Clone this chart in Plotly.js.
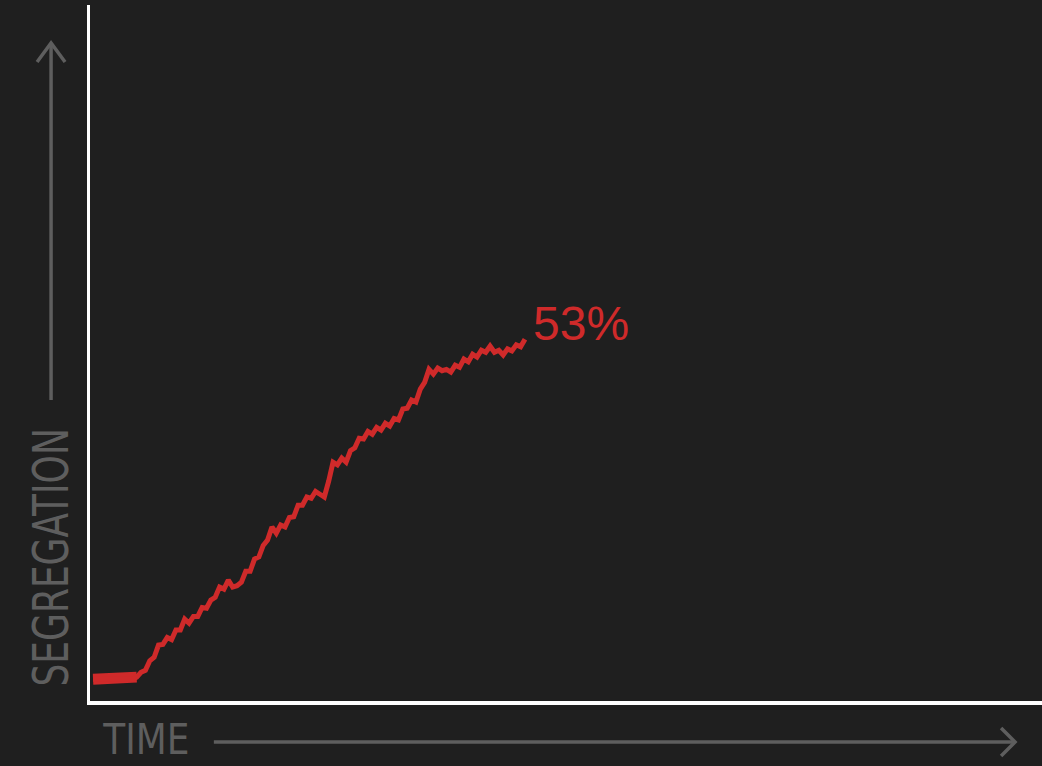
<!DOCTYPE html>
<html>
<head>
<meta charset="utf-8">
<script src="https://cdn.plot.ly/plotly-3.0.1.min.js"></script>
<style>
html,body{margin:0;padding:0;background:#1f1f1f;}
#chart{width:1042px;height:766px;}
</style>
</head>
<body>
<div id="chart"></div>
<script>
// Time steps
const timeSteps = [];
for (let i = 1; i <= 100; i++) timeSteps.push(i);

// Segregation (%)
const segregation = [
  3.2, 3.2, 3.2, 3.2, 3.2, 3.2, 3.2, 3.2, 3.2, 3.2,
  3.5, 4.2, 4.5, 5.9, 6.4, 8.2, 8.3, 9.3, 9.0, 10.4,
  10.4, 12.0, 11.4, 12.4, 12.4, 13.7, 13.6, 14.8, 15.2, 16.7,
  16.4, 17.7, 16.7, 16.9, 17.4, 19.0, 19.0, 20.8, 21.1, 22.8,
  23.6, 25.5, 24.6, 25.8, 25.5, 26.9, 27.0, 28.7, 28.7, 29.9,
  29.7, 30.7, 30.3, 29.9, 32.2, 35.0, 34.6, 35.6, 35.0, 36.7,
  37.1, 38.5, 38.4, 39.5, 39.1, 40.1, 39.7, 40.7, 40.3, 41.4,
  41.2, 42.8, 42.9, 44.1, 43.8, 45.7, 46.7, 48.6, 47.9, 48.8,
  48.4, 48.6, 48.2, 49.2, 48.9, 50.1, 49.7, 50.8, 50.4, 51.4,
  51.1, 52.0, 51.1, 51.4, 50.7, 51.6, 51.3, 52.2, 51.9, 53.0
];

const finalLabel = "53%";
const yAxisLabel = "SEGREGATION";
const xAxisLabel = "TIME";

const red = "#cf2a2a";
const gray = "#5e5e5e";

const traces = [
  {
    x: timeSteps.slice(0, 11),
    y: segregation.slice(0, 11),
    mode: "lines",
    line: {color: red, width: 11},
    hoverinfo: "skip",
    showlegend: false
  },
  {
    x: timeSteps,
    y: segregation,
    mode: "lines",
    line: {color: red, width: 5},
    hoverinfo: "skip",
    showlegend: false
  }
];

const n = timeSteps.length;

const layout = {
  width: 1042,
  height: 766,
  paper_bgcolor: "#1f1f1f",
  plot_bgcolor: "#1f1f1f",
  margin: {l: 90, r: 0, t: 5, b: 65},
  showlegend: false,
  xaxis: {
    range: [0.3, 218.5],
    showgrid: false, zeroline: false, showticklabels: false, ticks: "",
    showline: true, linecolor: "#ffffff", linewidth: 3.5,
    fixedrange: true
  },
  yaxis: {
    range: [0, 102],
    showgrid: false, zeroline: false, showticklabels: false, ticks: "",
    showline: true, linecolor: "#ffffff", linewidth: 3.5,
    fixedrange: true
  },
  annotations: [
    {
      x: timeSteps[n - 1], y: segregation[n - 1], xref: "x", yref: "y",
      text: finalLabel, showarrow: false, xanchor: "left", yanchor: "middle",
      xshift: 6, yshift: 16,
      font: {family: "Liberation Sans, Arial, sans-serif", size: 48, color: red}
    },
    {
      x: -0.0410, y: 0.207, xref: "paper", yref: "paper",
      text: yAxisLabel, showarrow: false, textangle: -90,
      xanchor: "center", yanchor: "middle",
      font: {family: "DejaVu Sans Condensed, Liberation Sans Narrow, sans-serif", size: 50, color: gray}
    },
    {
      x: 0.0588, y: -0.0560, xref: "paper", yref: "paper",
      text: xAxisLabel, showarrow: false,
      xanchor: "center", yanchor: "middle",
      font: {family: "DejaVu Sans Condensed, Liberation Sans Narrow, sans-serif", size: 42, color: gray}
    }
  ],
  shapes: [
    {type: "line", xref: "paper", yref: "paper", x0: -0.0409, x1: -0.0409, y0: 0.4325, y1: 0.9440,
     line: {color: gray, width: 3.5}},
    {type: "path", xref: "paper", yref: "paper",
     path: "M -0.0556 0.918 L -0.0409 0.9454 L -0.0262 0.918",
     line: {color: gray, width: 3.5}},
    {type: "line", xref: "paper", yref: "paper", x0: 0.1301, x1: 0.9710, y0: -0.0589, y1: -0.0589,
     line: {color: gray, width: 3.5}},
    {type: "path", xref: "paper", yref: "paper",
     path: "M 0.957 -0.0388 L 0.9717 -0.0589 L 0.957 -0.0790",
     line: {color: gray, width: 3.5}}
  ]
};

Plotly.newPlot("chart", traces, layout, {displayModeBar: false, staticPlot: true}).then(function (gd) {
  // condense the axis-name labels horizontally (along their reading direction)
  [[1, 0.8], [2, 0.95]].forEach(function (pair) {
    const g = gd.querySelector('.annotation[data-index="' + pair[0] + '"]');
    if (!g) return;
    const t = g.querySelector('text');
    if (!t) return;
    const bb = t.getBBox();
    const cx = bb.x + bb.width / 2, cy = bb.y + bb.height / 2;
    t.setAttribute('transform', 'translate(' + cx + ',' + cy + ') scale(' + pair[1] + ',1) translate(' + (-cx) + ',' + (-cy) + ')');
  });
});
</script>
</body>
</html>
